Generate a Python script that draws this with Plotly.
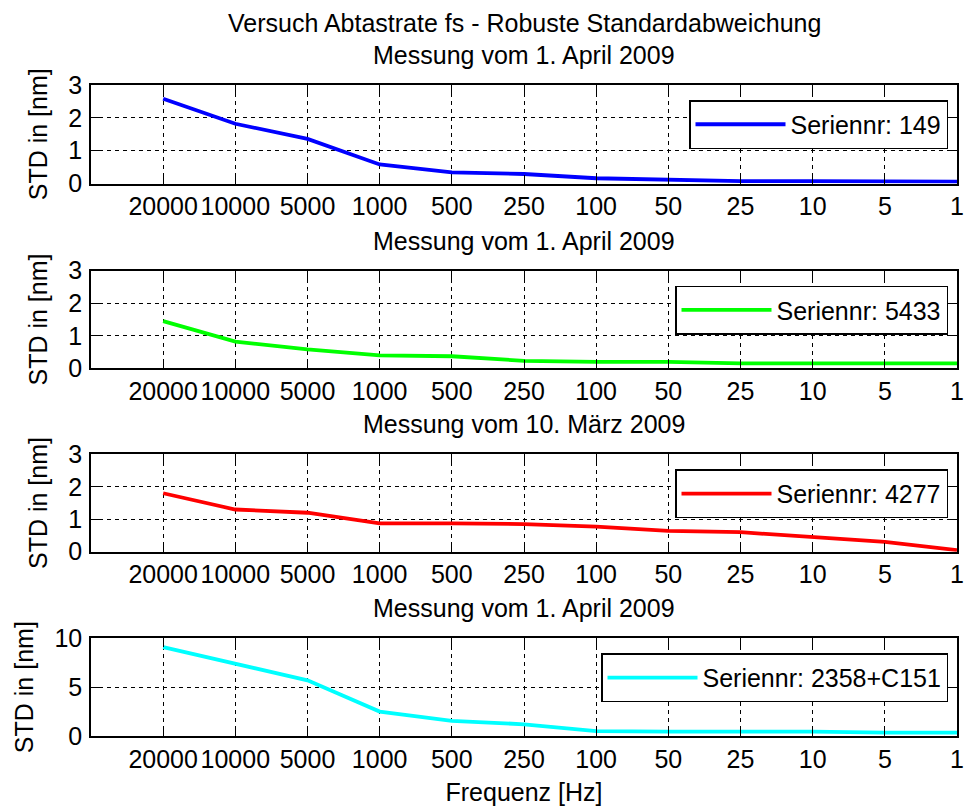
import plotly.graph_objects as go

# Sampling rates (categorical x positions 1..12)
freq_labels = ["20000", "10000", "5000", "1000", "500", "250",
               "100", "50", "25", "10", "5", "1"]
x_pos = list(range(1, len(freq_labels) + 1))

# Robust standard deviation per series [nm]
std_149 = [2.58, 1.82, 1.36, 0.58, 0.34, 0.29, 0.16, 0.11, 0.07, 0.07, 0.06, 0.06]
std_5433 = [1.45, 0.82, 0.58, 0.40, 0.37, 0.23, 0.20, 0.20, 0.15, 0.15, 0.15, 0.15]
std_4277 = [1.80, 1.30, 1.20, 0.87, 0.87, 0.85, 0.77, 0.64, 0.60, 0.46, 0.30, 0.05]
std_2358 = [9.1, 7.4, 5.7, 2.5, 1.55, 1.2, 0.5, 0.45, 0.45, 0.45, 0.35, 0.35]

series = [
    ("Seriennr: 149", std_149, "#0000ff", "Messung vom 1. April 2009", 3, [0, 1, 2, 3]),
    ("Seriennr: 5433", std_5433, "#00ff00", "Messung vom 1. April 2009", 3, [0, 1, 2, 3]),
    ("Seriennr: 4277", std_4277, "#ff0000", "Messung vom 10. März 2009", 3, [0, 1, 2, 3]),
    ("Seriennr: 2358+C151", std_2358, "#00ffff", "Messung vom 1. April 2009", 10, [0, 5, 10]),
]

FONT = "Liberation Sans, Arial, sans-serif"
FS = 25
W, H = 965, 808
ML, MR, MT, MB = 91, 8, 85, 72
PH = H - MT - MB
PW = W - ML - MR

# panel top/bottom in pixels
panels_px = [(85, 183.5), (270.7, 368.3), (454.3, 551.7), (638.3, 736)]


def fy(px):
    return (H - MB - px) / PH


fig = go.Figure()
annotations = []

for i, (name, vals, color, subtitle, ymax, yticks) in enumerate(series):
    n = i + 1
    xa = "x" if n == 1 else f"x{n}"
    ya = "y" if n == 1 else f"y{n}"
    lg = "legend" if n == 1 else f"legend{n}"
    top, bot = panels_px[i]

    fig.add_trace(go.Scatter(
        x=x_pos, y=vals, mode="lines", name=name,
        line=dict(color=color, width=3.8),
        xaxis=xa, yaxis=ya, legend=lg,
    ))

    axis_common = dict(
        showline=True, linecolor="black", linewidth=1.5, mirror="ticks",
        ticks="inside", ticklen=9, tickcolor="black", tickwidth=1,
        showgrid=True, gridcolor="black", gridwidth=1, griddash="4px,4px",
        zeroline=False, automargin=False,
        tickfont=dict(family=FONT, size=FS, color="black"),
    )
    xkey = "xaxis" if n == 1 else f"xaxis{n}"
    ykey = "yaxis" if n == 1 else f"yaxis{n}"
    fig.layout[xkey] = dict(
        axis_common, domain=[0, 1], range=[0, 12],
        tickmode="array", tickvals=x_pos, ticktext=freq_labels,
        anchor=ya, ticklabelstandoff=0, ticklabeloverflow="allow",
        title=dict(text="Frequenz [Hz]" if n == 4 else "",
                   font=dict(family=FONT, size=FS, color="black"), standoff=12),
    )
    fig.layout[ykey] = dict(
        axis_common, domain=[fy(bot), fy(top)], range=[0, ymax],
        tickmode="array", tickvals=yticks, anchor=xa, ticklabelstandoff=2,
        title=dict(text="STD in [nm]", font=dict(family=FONT, size=FS, color="black"),
                   standoff=14),
    )
    fig.layout[lg] = dict(
        x=(948 - ML) / PW, xanchor="right",
        y=fy(top + 15), yanchor="top",
        bgcolor="white", bordercolor="black", borderwidth=1.5,
        font=dict(family=FONT, size=FS, color="black"),
        itemwidth=90,
    )
    annotations.append(dict(
        text=subtitle, xref="paper", yref="paper", x=0.5, y=fy(top - 30),
        xanchor="center", yanchor="middle", showarrow=False,
        font=dict(family=FONT, size=FS, color="black"),
    ))

annotations.append(dict(
    text="Versuch Abtastrate fs - Robuste Standardabweichung",
    xref="paper", yref="paper", x=0.5, y=fy(23), xanchor="center", yanchor="middle",
    showarrow=False, font=dict(family=FONT, size=FS, color="black"),
))

fig.update_layout(
    width=W, height=H,
    margin=dict(l=ML, r=MR, t=MT, b=MB, autoexpand=False),
    paper_bgcolor="white", plot_bgcolor="white",
    annotations=annotations,
    showlegend=True,
)

fig.write_html("out.html")
